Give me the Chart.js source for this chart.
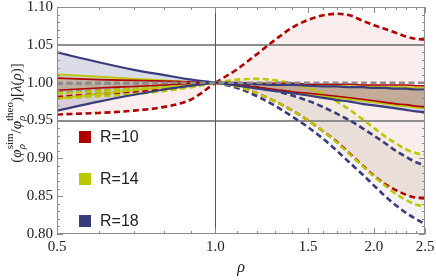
<!DOCTYPE html>
<html>
<head>
<meta charset="utf-8">
<script src="https://cdn.jsdelivr.net/npm/chart.js@4"></script>
<style>
  html, body { margin: 0; padding: 0; background: #fff; }
</style>
</head>
<body>
<canvas id="chart" width="436" height="280"></canvas>
<script>
// rho grid, left part 0.5..1.0 and right part 1.0..2.5 share the point 1.0 (index 5)
const rho = [0.5, 0.6, 0.7, 0.8, 0.9, 1.0, 1.1, 1.2, 1.3, 1.4, 1.5, 1.6, 1.7, 1.8, 1.9, 2.0, 2.1, 2.2, 2.3, 2.4, 2.5];

// R=10
const r10DashHi = [0.981, 0.985, 0.988, 0.992, 0.996, 1.000, 1.018, 1.038, 1.057, 1.073, 1.083, 1.089, 1.091, 1.089, 1.082, 1.076, 1.071, 1.066, 1.061, 1.058, 1.057];
const r10DashLo = [0.958, 0.960, 0.963, 0.968, 0.978, 1.000, 0.995, 0.986, 0.975, 0.963, 0.950, 0.936, 0.922, 0.906, 0.891, 0.877, 0.866, 0.858, 0.852, 0.848, 0.847];
const r10Hi = [1.006, 1.004, 1.003, 1.002, 1.001, 1.000, 1.000, 0.999, 0.999, 0.999, 0.998, 0.998, 0.998, 0.998, 0.997, 0.997, 0.997, 0.997, 0.997, 0.996, 0.996];
const r10Lo = [0.990, 0.993, 0.995, 0.997, 0.999, 1.000, 0.997, 0.994, 0.991, 0.988, 0.986, 0.984, 0.982, 0.980, 0.978, 0.976, 0.974, 0.972, 0.971, 0.969, 0.968];
// R=14
const r14DashHi = [0.986, 0.989, 0.992, 0.994, 0.997, 1.000, 1.004, 1.005, 1.003, 0.999, 0.993, 0.985, 0.975, 0.964, 0.952, 0.940, 0.929, 0.920, 0.912, 0.907, 0.905];
const r14DashLo = [0.979, 0.982, 0.985, 0.989, 0.994, 1.000, 0.995, 0.986, 0.975, 0.963, 0.950, 0.936, 0.921, 0.905, 0.890, 0.876, 0.864, 0.853, 0.845, 0.839, 0.836];
const r14Hi = [1.011, 1.008, 1.005, 1.003, 1.001, 1.000, 0.999, 0.999, 0.998, 0.997, 0.997, 0.996, 0.996, 0.995, 0.995, 0.995, 0.994, 0.994, 0.994, 0.993, 0.993];
const r14Lo = [0.979, 0.985, 0.990, 0.994, 0.997, 1.000, 0.996, 0.993, 0.990, 0.987, 0.985, 0.982, 0.980, 0.978, 0.976, 0.974, 0.972, 0.970, 0.969, 0.967, 0.966];
// R=18
const r18DashHi = [0.999, 0.999, 0.999, 1.000, 1.000, 1.000, 0.998, 0.994, 0.989, 0.983, 0.976, 0.968, 0.959, 0.950, 0.940, 0.930, 0.920, 0.910, 0.902, 0.895, 0.891];
const r18DashLo = [0.987, 0.990, 0.992, 0.995, 0.997, 1.000, 0.993, 0.982, 0.969, 0.955, 0.941, 0.926, 0.910, 0.894, 0.879, 0.864, 0.850, 0.838, 0.828, 0.820, 0.813];
const r18Hi = [1.040, 1.027, 1.017, 1.010, 1.004, 1.000, 0.999, 0.998, 0.997, 0.997, 0.996, 0.995, 0.995, 0.994, 0.994, 0.993, 0.993, 0.992, 0.992, 0.991, 0.991];
const r18Lo = [0.963, 0.975, 0.984, 0.991, 0.996, 1.000, 0.996, 0.992, 0.989, 0.986, 0.983, 0.980, 0.977, 0.975, 0.972, 0.970, 0.968, 0.966, 0.964, 0.962, 0.961];

const theoLevel = 1.0;
const refLevels = [1.05, 0.95];
const refRho = 1.0;

const xTicks = [0.5, 1.0, 1.5, 2.0, 2.5];
const xMinorTicks = [0.6, 0.7, 0.8, 0.9, 1.1, 1.2, 1.3, 1.4, 1.6, 1.7, 1.8, 1.9, 2.1, 2.2, 2.3, 2.4];
const yTicks = [0.80, 0.85, 0.90, 0.95, 1.00, 1.05, 1.10];

const legendLabels = ['R=10', 'R=14', 'R=18'];

const RED = '#b00000';
const GREEN = '#bac800';
const NAVY = '#383c7c';
const GRAY = '#8c8c8c';
const SERIF = '"Liberation Serif", "DejaVu Serif", serif';
const DASH = [6, 3.5];

function points(ys, from, to) {
    const out = [];
    for (let i = from; i <= to; i++) out.push({ x: rho[i], y: ys[i] });
    return out;
}

const datasets = [];

// reference theo line at 1.0
datasets.push({
    data: [{ x: 0.5, y: theoLevel }, { x: 2.5, y: theoLevel }],
    borderColor: GRAY, borderWidth: 2.5, borderDash: DASH, fill: false
});

function band(hi, lo, color, width, dash, fillColor, segColor) {
    [[0, 5], [5, 20]].forEach(([a, b]) => {
        const seg = segColor && a === 0 ? { borderColor: () => segColor } : undefined;
        datasets.push({
            data: points(hi, a, b), borderColor: color, borderWidth: width,
            borderDash: dash, fill: '+1', backgroundColor: fillColor, segment: seg
        });
        datasets.push({
            data: points(lo, a, b), borderColor: color, borderWidth: width,
            borderDash: dash, fill: false, segment: seg
        });
    });
}

band(r18Hi, r18Lo, NAVY, 2.2, [], 'rgba(45,50,120,0.17)');
band(r10Hi, r10Lo, RED, 1.6, [], 'rgba(180,30,0,0.15)');
band(r14Hi, r14Lo, GREEN, 1.8, [], 'rgba(170,185,0,0.22)');
band(r14DashHi, r14DashLo, GREEN, 2.6, DASH, 'rgba(150,170,0,0.06)');
band(r10DashHi, r10DashLo, RED, 2.6, DASH, 'rgba(180,0,0,0.07)');
band(r18DashHi, r18DashLo, NAVY, 2.6, DASH, 'rgba(40,40,120,0.05)', '#7d8096');

function drawYTitle(ctx, cx, cy) {
    const big = '15px ' + SERIF, bigI = 'italic 15px ' + SERIF;
    const small = '11px ' + SERIF, smallI = 'italic 11px ' + SERIF;
    const pieces = [
        [{ t: '(', f: big }],
        [{ t: 'φ', f: bigI }],
        [{ t: 'ρ', f: smallI, dy: 4 }, { t: 'sim', f: small, dy: -8 }],
        [{ t: '/', f: big }],
        [{ t: 'φ', f: bigI }],
        [{ t: 'ρ', f: smallI, dy: 4 }, { t: 'theo', f: small, dy: -8 }],
        [{ t: ')[', f: big }],
        [{ t: 'λ', f: bigI }],
        [{ t: '(', f: big }],
        [{ t: 'ρ', f: bigI }],
        [{ t: ')]', f: big }]
    ];
    let total = 0;
    const widths = pieces.map(p => {
        let w = 0;
        p.forEach(s => { ctx.font = s.f; w = Math.max(w, ctx.measureText(s.t).width); });
        total += w;
        return w;
    });
    ctx.save();
    ctx.translate(cx, cy);
    ctx.rotate(-Math.PI / 2);
    ctx.fillStyle = '#222';
    ctx.textBaseline = 'alphabetic';
    let u = -total / 2;
    pieces.forEach((p, i) => {
        p.forEach(s => {
            ctx.font = s.f;
            ctx.fillText(s.t, u, s.dy || 0);
        });
        u += widths[i];
    });
    ctx.restore();
}

const framePlugin = {
    id: 'frame',
    beforeDatasetsDraw(chart) {
        const { ctx, chartArea: a, scales: { x, y } } = chart;
        ctx.save();
        ctx.strokeStyle = GRAY;
        ctx.lineWidth = 2;
        refLevels.forEach(v => {
            const py = Math.round(y.getPixelForValue(v));
            ctx.beginPath(); ctx.moveTo(a.left, py); ctx.lineTo(a.right, py); ctx.stroke();
        });
        ctx.strokeStyle = '#555';
        ctx.lineWidth = 1;
        const px = Math.round(x.getPixelForValue(refRho)) + 0.5;
        ctx.beginPath(); ctx.moveTo(px, a.top); ctx.lineTo(px, a.bottom); ctx.stroke();
        ctx.restore();
    },
    afterDatasetsDraw(chart) {
        const { ctx, chartArea: a, scales: { x, y } } = chart;
        ctx.save();
        ctx.strokeStyle = GRAY;
        ctx.lineWidth = 1;
        ctx.strokeRect(a.left + 0.5, a.top + 0.5, a.right - a.left - 1, a.bottom - a.top - 1);
        ctx.beginPath();
        const hTick = (v, len) => {
            const py = Math.round(y.getPixelForValue(v)) + 0.5;
            ctx.moveTo(a.left, py); ctx.lineTo(a.left + len, py);
            ctx.moveTo(a.right, py); ctx.lineTo(a.right - len, py);
        };
        const vTick = (v, len) => {
            const px = Math.round(x.getPixelForValue(v)) + 0.5;
            ctx.moveTo(px, a.bottom); ctx.lineTo(px, a.bottom - len);
            ctx.moveTo(px, a.top); ctx.lineTo(px, a.top + len);
        };
        yTicks.forEach(v => hTick(v, 6));
        for (let k = 80; k <= 110; k++) if (k % 5) hTick(k / 100, 3);
        xTicks.forEach(v => vTick(v, 6));
        xMinorTicks.forEach(v => vTick(v, 3));
        ctx.stroke();
        ctx.restore();
    },
    afterDraw(chart) {
        const { ctx, chartArea: a } = chart;
        drawYTitle(ctx, 21, 113);
        ctx.save();
        ctx.fillStyle = '#222';
        ctx.font = 'italic 16px ' + SERIF;
        ctx.textAlign = 'center';
        ctx.textBaseline = 'middle';
        ctx.fillText('ρ', (a.left + a.right) / 2, 268);
        const colors = [RED, GREEN, NAVY];
        ctx.font = '16px "Liberation Sans", Arial, sans-serif';
        ctx.textAlign = 'left';
        legendLabels.forEach((label, i) => {
            const cy = 137 + i * 42;
            ctx.fillStyle = colors[i];
            ctx.fillRect(79, cy - 6, 12, 12);
            ctx.fillStyle = '#222';
            ctx.fillText(label, 100, cy + 1);
        });
        ctx.restore();
    }
};

const tickFont = { family: SERIF, size: 15 };

new Chart(document.getElementById('chart'), {
    type: 'line',
    data: { datasets: datasets },
    options: {
        responsive: false,
        animation: false,
        layout: { padding: { left: 0, right: 11, top: 7, bottom: 0 } },
        elements: { point: { radius: 0 }, line: { cubicInterpolationMode: 'monotone' } },
        plugins: {
            legend: { display: false },
            tooltip: { enabled: false },
            filler: { drawTime: 'beforeDatasetsDraw' }
        },
        scales: {
            x: {
                type: 'logarithmic', min: 0.5, max: 2.5,
                grid: { display: false, drawTicks: false },
                border: { display: false },
                afterBuildTicks: s => { s.ticks = xTicks.map(v => ({ value: v })); },
                ticks: { padding: 4, maxRotation: 0, autoSkip: false, font: tickFont, color: '#222',
                    callback: v => Number(v).toFixed(1) },
                afterFit: s => { s.height = 46; s.paddingLeft = 0; s.paddingRight = 0; }
            },
            y: {
                min: 0.8, max: 1.1,
                grid: { display: false, drawTicks: false },
                border: { display: false },
                afterBuildTicks: s => { s.ticks = yTicks.map(v => ({ value: v })); },
                ticks: { padding: 4, font: tickFont, color: '#222',
                    callback: v => Number(v).toFixed(2) },
                afterFit: s => { s.width = 57; s.paddingTop = 0; s.paddingBottom = 0; }
            }
        }
    },
    plugins: [framePlugin]
});
</script>
</body>
</html>
